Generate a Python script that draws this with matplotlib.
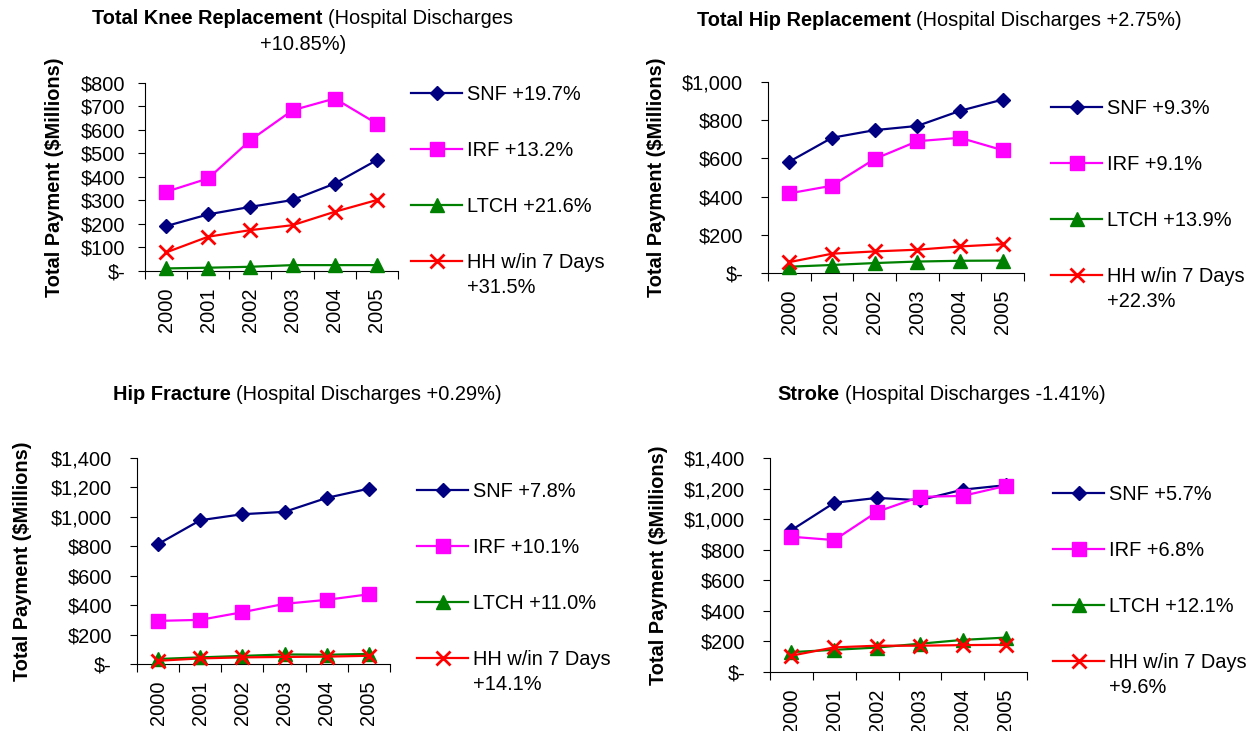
import matplotlib.pyplot as plt
import numpy as np
from matplotlib.ticker import FuncFormatter, FixedLocator

plt.rcParams['font.family'] = ['Liberation Sans', 'DejaVu Sans']
plt.rcParams['font.size'] = 14.4

W, H = 1254, 731

years = ["2000", "2001", "2002", "2003", "2004", "2005"]
series_names = ["SNF", "IRF", "LTCH", "HH w/in 7 Days"]

# Total knee replacement, $ millions
knee_snf = [191, 241, 273, 302, 372, 472]
knee_irf = [337, 394, 557, 684, 734, 627]
knee_ltch = [11, 14, 18, 25, 25, 25]
knee_hh = [79, 146, 174, 195, 252, 302]
knee_growth = ["+19.7%", "+13.2%", "+21.6%", "+31.5%"]

# Total hip replacement
hip_snf = [583, 708, 748, 770, 849, 908]
hip_irf = [417, 457, 597, 690, 708, 643]
hip_ltch = [33, 42, 52, 60, 64, 65]
hip_hh = [57, 101, 113, 122, 139, 151]
hip_growth = ["+9.3%", "+9.1%", "+13.9%", "+22.3%"]

# Hip fracture
frac_snf = [815, 977, 1018, 1034, 1129, 1192]
frac_irf = [293, 300, 352, 409, 436, 474]
frac_ltch = [34, 45, 55, 65, 63, 68]
frac_hh = [22, 38, 45, 48, 50, 56]
frac_growth = ["+7.8%", "+10.1%", "+11.0%", "+14.1%"]

# Stroke
stroke_snf = [928, 1107, 1139, 1124, 1193, 1222]
stroke_irf = [885, 863, 1048, 1146, 1152, 1217]
stroke_ltch = [130, 145, 160, 185, 210, 225]
stroke_hh = [107, 161, 172, 172, 176, 178]
stroke_growth = ["+5.7%", "+6.8%", "+12.1%", "+9.6%"]

titles_bold = ["Total Knee Replacement", "Total Hip Replacement",
               "Hip Fracture", "Stroke"]
titles_rest = ["(Hospital Discharges", "(Hospital Discharges +2.75%)",
               "(Hospital Discharges +0.29%)", "(Hospital Discharges -1.41%)"]
knee_title_line2 = "+10.85%)"

colors = ["#000080", "#FF00FF", "#008000", "#FF0000"]
markers = ["D", "s", "^", "x"]
msizes = [7, 10, 10, 10]

panels = [
    dict(data=[knee_snf, knee_irf, knee_ltch, knee_hh], growth=knee_growth,
         ymax=800, step=100, box=(145, 83, 398, 271), ypad=9,
         title=(92, 18), ylab=(55, 177), leg=(411, 85)),
    dict(data=[hip_snf, hip_irf, hip_ltch, hip_hh], growth=hip_growth,
         ymax=1000, step=200, box=(768, 82, 1024, 273), ypad=13,
         title=(697, 20), ylab=(657, 177), leg=(1051, 99)),
    dict(data=[frac_snf, frac_irf, frac_ltch, frac_hh], growth=frac_growth,
         ymax=1400, step=200, box=(137, 458, 390, 664), ypad=13,
         title=(113, 395), ylab=(23, 561), leg=(417, 482)),
    dict(data=[stroke_snf, stroke_irf, stroke_ltch, stroke_hh], growth=stroke_growth,
         ymax=1400, step=200, box=(770, 458, 1027, 672), ypad=13,
         title=(777, 395), ylab=(658, 565), leg=(1053, 485)),
]


def fx(px):
    return px / W


def fy(py):
    return 1 - py / H


def money(v, pos):
    if v == 0:
        return "$-"
    return "${:,.0f}".format(v)


fig = plt.figure(figsize=(W / 100, H / 100), dpi=100)
x = np.arange(len(years))
legends = []

for i, p in enumerate(panels):
    l, t, r, b = p["box"]
    ax = fig.add_axes([fx(l), fy(b), (r - l) / W, (b - t) / H])

    handles = []
    for vals, c, m, ms in zip(p["data"], colors, markers, msizes):
        line, = ax.plot(x, vals, color=c, marker=m, markersize=ms,
                        markeredgewidth=2 if m == "x" else 1, lw=1.6,
                        clip_on=False, zorder=3)
        handles.append(line)

    ax.set_xlim(-0.5, len(years) - 0.5)
    ax.set_ylim(0, p["ymax"])
    ax.yaxis.set_major_locator(FixedLocator(np.arange(0, p["ymax"] + 1, p["step"])))
    ax.yaxis.set_major_formatter(FuncFormatter(money))
    ax.tick_params(axis="y", direction="out", length=5, width=0.8, pad=p["ypad"])

    # category ticks sit between the years, labels sit under each year
    ax.set_xticks(np.arange(-0.5, len(years)), [""] * (len(years) + 1))
    ax.set_xticks(x, years, minor=True, rotation=90)
    ax.tick_params(axis="x", which="major", direction="out", length=6, width=0.8)
    ax.tick_params(axis="x", which="minor", length=0, pad=12)

    for side in ["top", "right"]:
        ax.spines[side].set_visible(False)
    for side in ["left", "bottom"]:
        ax.spines[side].set_linewidth(0.8)

    ax.set_ylabel("Total Payment ($Millions)", weight="bold", va="center")
    ax.yaxis.set_label_coords(fx(p["ylab"][0]), fy(p["ylab"][1]),
                              transform=fig.transFigure)

    labels = [n + " " + g for n, g in zip(series_names, p["growth"])]
    labels[3] = series_names[3]
    lx, ly = p["leg"]
    leg = ax.legend(handles, labels, loc="upper left",
                    bbox_to_anchor=(fx(lx), fy(ly)), bbox_transform=fig.transFigure,
                    frameon=False, borderpad=0, borderaxespad=0,
                    handlelength=2.55, handletextpad=0.25, labelspacing=1.85)
    legends.append(leg)

    tx, ty = p["title"]
    bold = fig.text(fx(tx), fy(ty), titles_bold[i], weight="bold",
                    ha="left", va="center")
    ax.annotate(titles_rest[i], xy=(1, 0), xycoords=bold,
                xytext=(5.6, 0), textcoords="offset pixels",
                ha="left", va="bottom")

fig.text(fx(303), fy(45), knee_title_line2, ha="center", va="center")

# the HH growth figure wraps onto a second line under its legend entry
fig.canvas.draw()
for p, leg in zip(panels, legends):
    bb = leg.get_texts()[3].get_window_extent()
    fig.text(bb.x0 / W, ((bb.y0 + bb.y1) / 2 - 25) / H, p["growth"][3],
             ha="left", va="center")

fig.savefig("out.png", dpi=100)
